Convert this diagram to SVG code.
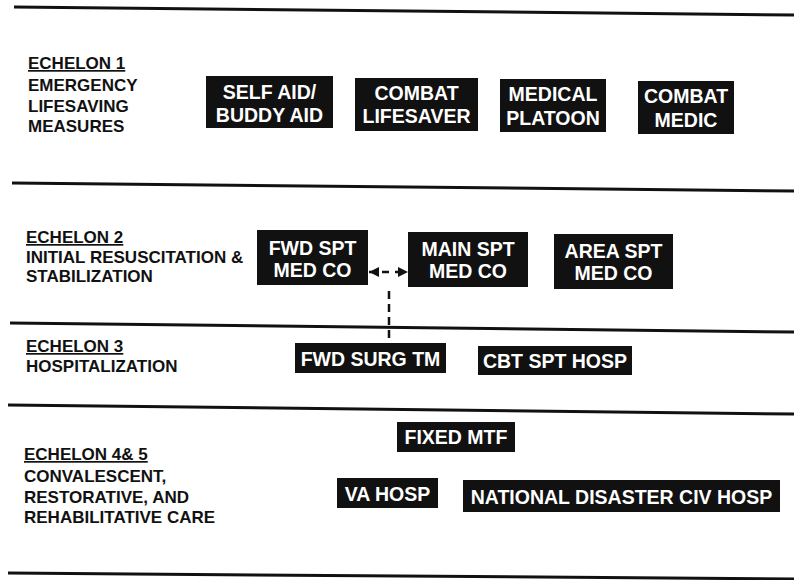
<svg xmlns="http://www.w3.org/2000/svg" width="794" height="580" viewBox="0 0 794 580">
<defs>
<style>
.rule{stroke:#111;stroke-width:3;fill:none}
.lbl{font-family:"Liberation Sans",Arial,sans-serif;font-weight:bold;font-size:17px;fill:#111}
.ul{text-decoration:underline}
.box{fill:#111}
.bt{font-family:"Liberation Sans",Arial,sans-serif;font-weight:bold;font-size:19.5px;fill:#fff;text-anchor:middle}
.dash{stroke:#111;stroke-width:2.5;fill:none}
</style>
<marker id="ah" viewBox="0 0 10 10" refX="10" refY="5" markerWidth="4" markerHeight="4" orient="auto-start-reverse" markerUnits="strokeWidth">
<path d="M0,0 L10,5 L0,10 Z" fill="#111"/>
</marker>
</defs>
<rect width="794" height="580" fill="#fff"/>
<g id="rules">
<line class="rule" x1="14" y1="7" x2="794" y2="15"/>
<line class="rule" x1="12" y1="183" x2="794" y2="191"/>
<line class="rule" x1="10" y1="323" x2="794" y2="332"/>
<line class="rule" x1="8" y1="405" x2="794" y2="414"/>
<line class="rule" x1="8" y1="573" x2="794" y2="579"/>
</g>
<g id="echelon1-label">
<text class="lbl ul" x="28" y="69">ECHELON 1</text>
<text class="lbl" x="28" y="91">EMERGENCY</text>
<text class="lbl" x="28" y="112">LIFESAVING</text>
<text class="lbl" x="28" y="132">MEASURES</text>
</g>
<g id="echelon2-label">
<text class="lbl ul" x="26" y="243">ECHELON 2</text>
<text class="lbl" x="26" y="263">INITIAL RESUSCITATION &amp;</text>
<text class="lbl" x="26" y="282">STABILIZATION</text>
</g>
<g id="echelon3-label">
<text class="lbl ul" x="26" y="352">ECHELON 3</text>
<text class="lbl" x="26" y="372">HOSPITALIZATION</text>
</g>
<g id="echelon45-label">
<text class="lbl ul" x="24" y="460">ECHELON 4&amp; 5</text>
<text class="lbl" x="24" y="482">CONVALESCENT,</text>
<text class="lbl" x="24" y="503">RESTORATIVE, AND</text>
<text class="lbl" x="24" y="523">REHABILITATIVE CARE</text>
</g>
<g id="self-aid">
<rect class="box" x="206" y="76" width="127" height="52"/>
<text class="bt" x="269.5" y="99">SELF AID/</text>
<text class="bt" x="269.5" y="122">BUDDY AID</text>
</g>
<g id="combat-lifesaver">
<rect class="box" x="355" y="78" width="123" height="53"/>
<text class="bt" x="416.5" y="100">COMBAT</text>
<text class="bt" x="416.5" y="123">LIFESAVER</text>
</g>
<g id="medical-platoon">
<rect class="box" x="500" y="79" width="106" height="53"/>
<text class="bt" x="553" y="101">MEDICAL</text>
<text class="bt" x="553" y="125">PLATOON</text>
</g>
<g id="combat-medic">
<rect class="box" x="638" y="81" width="96" height="53"/>
<text class="bt" x="686" y="103">COMBAT</text>
<text class="bt" x="686" y="127">MEDIC</text>
</g>
<g id="fwd-spt">
<rect class="box" x="257" y="230" width="111" height="55"/>
<text class="bt" x="312.5" y="255">FWD SPT</text>
<text class="bt" x="312.5" y="277">MED CO</text>
</g>
<g id="main-spt">
<rect class="box" x="408" y="232" width="120" height="55"/>
<text class="bt" x="468" y="256">MAIN SPT</text>
<text class="bt" x="468" y="278">MED CO</text>
</g>
<g id="area-spt">
<rect class="box" x="554" y="234" width="119" height="55"/>
<text class="bt" x="613.5" y="258">AREA SPT</text>
<text class="bt" x="613.5" y="280">MED CO</text>
</g>
<g id="fwd-surg">
<rect class="box" x="295" y="343" width="151" height="30"/>
<text class="bt" x="370.5" y="366">FWD SURG TM</text>
</g>
<g id="cbt-spt-hosp">
<rect class="box" x="478" y="346" width="154" height="29"/>
<text class="bt" x="555" y="368">CBT SPT HOSP</text>
</g>
<g id="fixed-mtf">
<rect class="box" x="397" y="422" width="118" height="30"/>
<text class="bt" x="456" y="444">FIXED MTF</text>
</g>
<g id="va-hosp">
<rect class="box" x="337" y="478" width="101" height="30"/>
<text class="bt" x="387.5" y="501">VA HOSP</text>
</g>
<g id="national-disaster">
<rect class="box" x="463" y="480" width="317" height="32"/>
<text class="bt" x="621.5" y="504">NATIONAL DISASTER CIV HOSP</text>
</g>
<g id="connectors">
<path class="dash" d="M369,272 H408" stroke-dasharray="7 6" marker-start="url(#ah)" marker-end="url(#ah)"/>
<path class="dash" d="M389,291 V343" stroke-dasharray="8 5"/>
</g>
</svg>
